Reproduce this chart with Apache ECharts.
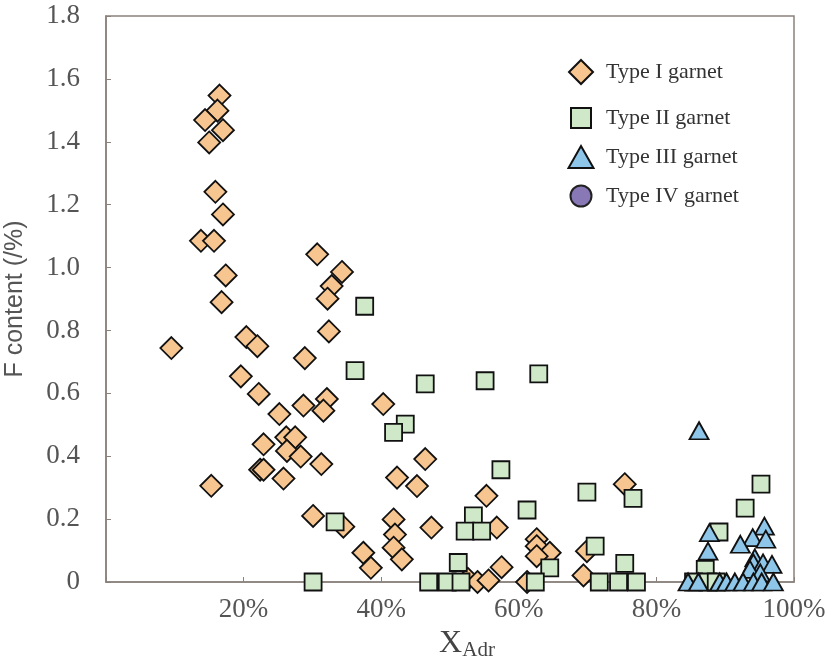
<!DOCTYPE html>
<html>
<head>
<meta charset="utf-8">
<script src="https://cdn.jsdelivr.net/npm/echarts@6/dist/echarts.min.js"></script>
<style>
  html, body { margin: 0; padding: 0; background: #fff; }
  #garnetChart { width: 831px; height: 664px; }
</style>
</head>
<body>
<div id="garnetChart"></div>
<script>
// series names as shown in the legend
var seriesNames = ["Type I garnet", "Type II garnet", "Type III garnet", "Type IV garnet"];

// [X_Adr (%), F content (%)]
var typeI = [
  [16.5, 1.547], [16.2, 1.499], [14.4, 1.469], [17.0, 1.437], [15.0, 1.398],
  [15.9, 1.241], [17.0, 1.169], [13.8, 1.085], [15.7, 1.085], [17.4, 0.975], [16.8, 0.890],
  [30.7, 1.042], [34.3, 0.986], [32.8, 0.941], [32.2, 0.901], [32.4, 0.797],
  [9.5, 0.744], [20.4, 0.779], [22.0, 0.750], [28.9, 0.712], [19.6, 0.654], [22.2, 0.598],
  [25.2, 0.534], [28.7, 0.561], [32.1, 0.582], [31.6, 0.545], [40.3, 0.566],
  [22.9, 0.438], [26.2, 0.460], [27.5, 0.460], [26.3, 0.417], [28.3, 0.399],
  [22.4, 0.357], [22.9, 0.357], [25.8, 0.329], [15.3, 0.306], [31.3, 0.375],
  [46.4, 0.391], [42.3, 0.332], [45.2, 0.305], [55.3, 0.274],
  [30.1, 0.210], [34.5, 0.176], [41.8, 0.199], [42.0, 0.151], [47.3, 0.173],
  [41.8, 0.109], [43.0, 0.072], [37.4, 0.093], [38.5, 0.045],
  [56.8, 0.173], [62.6, 0.136], [62.6, 0.114], [64.5, 0.093], [62.6, 0.082],
  [57.5, 0.047], [69.9, 0.098], [75.4, 0.311], [69.4, 0.021],
  [52.6, 0.010], [54.0, 0.0], [55.6, 0.005], [61.2, 0.0]
];

var typeII = [
  [37.6, 0.877], [36.2, 0.672], [46.4, 0.630], [55.1, 0.640], [62.9, 0.662],
  [43.5, 0.502], [41.8, 0.476], [57.4, 0.357], [33.3, 0.191],
  [53.4, 0.210], [52.2, 0.162], [54.6, 0.162], [51.2, 0.062], [61.2, 0.229],
  [69.9, 0.286], [76.6, 0.266], [71.1, 0.114], [64.5, 0.045], [75.4, 0.059],
  [95.2, 0.311], [92.9, 0.235], [89.1, 0.159], [87.1, 0.040],
  [30.1, 0], [46.9, 0], [49.6, 0], [51.6, 0], [62.4, 0],
  [71.7, 0], [74.5, 0], [77.1, 0], [85.4, 0], [87.5, 0], [88.7, 0]
];

var typeIII = [
  [86.2, 0.481], [87.7, 0.157], [87.5, 0.098], [95.7, 0.178], [94.0, 0.141],
  [95.9, 0.136], [92.2, 0.120], [94.3, 0.077], [94.1, 0.061], [95.5, 0.061],
  [96.8, 0.056], [93.6, 0.040], [95.1, 0.029],
  [84.6, 0], [86.1, 0], [89.2, 0], [90.2, 0], [91.4, 0], [92.6, 0],
  [94.1, 0], [95.3, 0], [97.0, 0]
];

var typeIV = [];

var axisColor = "#8a817c";
var serif = "'Liberation Serif', 'Times New Roman', serif";

var chart = echarts.init(document.getElementById("garnetChart"));

function legendAt(name, top, w, h) {
  return {
    data: [name],
    orient: "vertical",
    left: 580 - w / 2 - 5,
    top: top - h / 2 - 5,
    itemWidth: w,
    itemHeight: h,
    selectedMode: false,
    textStyle: {
      fontFamily: serif,
      fontSize: 22,
      color: "#333",
      padding: [0, 0, 0, 20 - w / 2]
    }
  };
}

var option = {
  backgroundColor: "#fff",
  animation: false,
  grid: {
    left: 106,
    right: 37,
    top: 16,
    bottom: 82,
    show: true,
    borderColor: axisColor,
    borderWidth: 1.5,
    containLabel: false,
    outerBoundsMode: "none"
  },
  legend: [
    legendAt(seriesNames[0], 71, 24, 24),
    legendAt(seriesNames[1], 117, 20, 20),
    legendAt(seriesNames[2], 156, 25, 22),
    legendAt(seriesNames[3], 195, 21, 21)
  ],
  xAxis: {
    type: "value",
    min: 0,
    max: 100,
    interval: 20,
    name: "{x|X}{s|Adr}",
    nameLocation: "middle",
    nameGap: 42,
    nameTextStyle: {
      padding: [0, 0, 0, 34],
      rich: {
        x: { fontFamily: serif, fontSize: 32, color: "#444" },
        s: { fontFamily: serif, fontSize: 21, color: "#444", padding: [14, 0, 0, 0] }
      }
    },
    axisLine: { lineStyle: { color: axisColor, width: 1.5 } },
    axisTick: { inside: true, length: 5, lineStyle: { color: axisColor } },
    axisLabel: {
      margin: 14,
      fontFamily: serif,
      fontSize: 27,
      color: "#555",
      formatter: function (v) { return v === 0 ? "" : v + "%"; }
    },
    splitLine: { show: false }
  },
  yAxis: {
    type: "value",
    min: 0,
    max: 1.8,
    interval: 0.2,
    name: "F content (/%)",
    nameLocation: "middle",
    nameGap: 78,
    nameTextStyle: {
      fontFamily: "'Liberation Sans', Arial, sans-serif",
      fontSize: 25,
      color: "#555"
    },
    axisLine: { lineStyle: { color: axisColor, width: 1.5 } },
    axisTick: { inside: true, length: 5, lineStyle: { color: axisColor } },
    axisLabel: {
      margin: 26,
      fontFamily: serif,
      fontSize: 27,
      color: "#555",
      formatter: function (v) { return v === 0 ? "0" : v.toFixed(1); }
    },
    splitLine: { show: false }
  },
  series: [
    {
      name: seriesNames[0],
      type: "scatter",
      symbol: "diamond",
      symbolSize: 22,
      clip: false,
      data: typeI,
      itemStyle: { color: "#f7c58f", borderColor: "#111", borderWidth: 1.8, opacity: 1 }
    },
    {
      name: seriesNames[1],
      type: "scatter",
      symbol: "rect",
      symbolSize: 17,
      clip: false,
      data: typeII,
      itemStyle: { color: "#cfe8c8", borderColor: "#111", borderWidth: 1.8, opacity: 1 }
    },
    {
      name: seriesNames[2],
      type: "scatter",
      symbol: "triangle",
      symbolSize: [19, 17],
      clip: false,
      data: typeIII,
      itemStyle: { color: "#8ec6ea", borderColor: "#111", borderWidth: 1.8, opacity: 1 }
    },
    {
      name: seriesNames[3],
      type: "scatter",
      symbol: "circle",
      symbolSize: 18,
      clip: false,
      data: typeIV,
      itemStyle: { color: "#8878b6", borderColor: "#222", borderWidth: 1.5, opacity: 1 }
    }
  ]
};

chart.setOption(option);
</script>
</body>
</html>
